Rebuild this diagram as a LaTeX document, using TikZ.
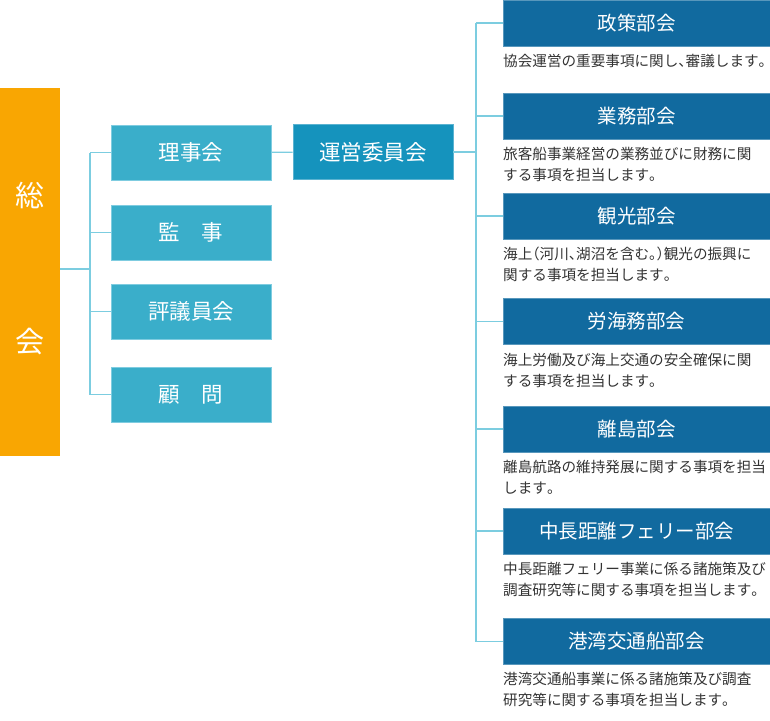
\documentclass[tikz,border=0pt]{standalone}
\usepackage{fontspec}
\newfontfamily\jp{Noto Sans CJK JP}
\newfontfamily\jph[RawFeature=+halt]{Noto Sans CJK JP}
\newcommand\hw[1]{{\jph #1}}
\definecolor{orng}{HTML}{F9A602}
\definecolor{lcol}{HTML}{3AAECA}
\definecolor{lcolb}{HTML}{7FCCE0}
\definecolor{mcol}{HTML}{1593BD}
\definecolor{rcol}{HTML}{116A9F}
\definecolor{conncol}{HTML}{7CCDE0}
\definecolor{desccol}{HTML}{333333}
\begin{document}
\begin{tikzpicture}[x=1pt,y=-1pt,
  lbox/.style={fill=lcol, draw=lcolb, line width=0.6pt, minimum width=160pt, minimum height=55pt, inner sep=0pt, text=white, font=\jp\fontsize{21.5}{21.5}\selectfont},
  mbox/.style={lbox, fill=mcol, draw=mcol!70!white},
  rbox/.style={fill=rcol, draw=rcol!70!white, line width=0.6pt, minimum width=267pt, minimum height=46pt, inner sep=0pt, text=white, font=\jp\fontsize{19.5}{19.5}\selectfont},
  desc/.style={anchor=north west, inner sep=0pt, align=left, text=desccol, font=\jp\fontsize{14.6}{21}\selectfont},
  conn/.style={draw=conncol, line width=1.3pt},
  big/.style={text=white, inner sep=0pt, font=\jp\fontsize{29}{29}\selectfont}]
\useasboundingbox (0,0) rectangle (770,720);
% general assembly
\node[fill=orng, minimum width=60pt, minimum height=368pt, inner sep=0pt] (sokai) at (30,272) {};
\node[big] (sokai1) at (30,195) {総};
\node[big] (sokai2) at (30,342) {会};
% left boxes
\node[lbox] (riji) at (191,152.5) {理事会};
\node[lbox] (kanji) at (191,232.5) {監　事};
\node[lbox] (hyogi) at (191,311.5) {評議員会};
\node[lbox] (komon) at (191,394.5) {顧　問};
\node[mbox] (unei) at (373,152) {運営委員会};
% right boxes
\node[rbox] (r1) at (636.5,23) {政策部会};
\node[rbox] (r2) at (636.5,116) {業務部会};
\node[rbox] (r3) at (636.5,216) {観光部会};
\node[rbox] (r4) at (636.5,321.5) {労海務部会};
\node[rbox] (r5) at (636.5,429) {離島部会};
\node[rbox] (r6) at (636.5,531) {中長距離フェリー部会};
\node[rbox] (r7) at (636.5,641.5) {港湾交通船部会};
% descriptions
\node[desc] (d1) at (503,54) {協会運営の重要事項に関し\hw{、}審議します\hw{。}};
\node[desc] (d2) at (503,147) {旅客船事業経営の業務並びに財務に関\\する事項を担当します\hw{。}};
\node[desc] (d3) at (503,247) {海上\hw{（}河川\hw{、}湖沼を含む\hw{。）}観光の振興に\\関する事項を担当します\hw{。}};
\node[desc] (d4) at (503,353) {海上労働及び海上交通の安全確保に関\\する事項を担当します\hw{。}};
\node[desc] (d5) at (503,460) {離島航路の維持発展に関する事項を担当\\します\hw{。}};
\node[desc] (d6) at (503,562) {中長距離フェリー事業に係る諸施策及び\\調査研究等に関する事項を担当します\hw{。}};
\node[desc] (d7) at (503,672) {港湾交通船事業に係る諸施策及び調査\\研究等に関する事項を担当します\hw{。}};
% connectors
\coordinate (j0) at (90,269);
\coordinate (jt) at (90,152.5);
\coordinate (jb) at (90,394.5);
\draw[conn] (sokai.east |- j0) -- (j0);
\draw[conn] (jt) -- (jb);
\foreach \n in {riji,kanji,hyogi,komon} \draw[conn] (\n.west -| jt) -- (\n.west);
\draw[conn] (riji) -- (unei);
\coordinate (kt) at (476,23);
\coordinate (kb) at (476,641.5);
\draw[conn] (unei.east) -- (unei.east -| kt);
\draw[conn] (kt) -- (kb);
\foreach \n in {r1,r2,r3,r4,r5,r6,r7} \draw[conn] (\n.west -| kt) -- (\n.west);
\end{tikzpicture}
\end{document}
